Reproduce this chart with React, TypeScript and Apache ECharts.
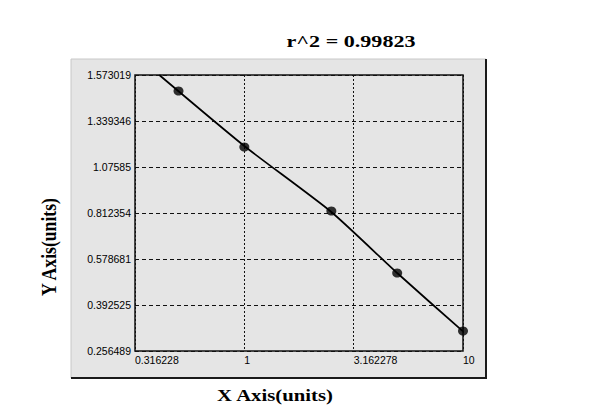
import React, { useEffect, useRef } from "react";
import * as echarts from "echarts";

const xTickLabels = ["0.316228", "1", "3.162278", "10"];
const yTickLabels = ["0.256489", "0.392525", "0.578681", "0.812354", "1.07585", "1.339346", "1.573019"];

const pointX = [0.5, 1, 2.5, 5, 10];
const pointY = [1.4917, 1.1905, 0.8237, 0.5221, 0.3156];

const fitX = [0.4084, 1, 2.5, 5, 10];
const fitY = [1.573019, 1.1961, 0.8181, 0.522, 0.3142];

const titleText = "r^2 = 0.99823";
const xTitle = "X Axis(units)";
const yTitle = "Y Axis(units)";

const yTickValues = yTickLabels.map(Number);

// map a value onto the (piecewise) y axis scale used by the original plot
function toYPos(v: number): number {
  const t = yTickValues;
  let i = 0;
  while (i < t.length - 2 && v > t[i + 1]) i++;
  return i + (v - t[i]) / (t[i + 1] - t[i]);
}
const toXPos = (v: number) => Math.log10(v);

export default function App() {
  const ref = useRef<HTMLDivElement>(null);
  useEffect(() => {
    document.body.style.margin = "0";
    if (!ref.current) return;
    const chart = echarts.init(ref.current, null, { renderer: "svg" });
    const panelFill = "#e5e5e5";
    chart.setOption({
      animation: false,
      backgroundColor: "#ffffff",
      grid: {
        left: 135,
        top: 75,
        right: 137,
        bottom: 64,
        show: true,
        backgroundColor: panelFill,
        borderColor: "#111",
        borderWidth: 1.5,
        containLabel: false,
      },
      xAxis: {
        type: "value",
        min: -0.5,
        max: 1,
        interval: 0.5,
        axisLine: { show: false },
        axisTick: { show: false },
        axisLabel: {
          color: "#000",
          fontFamily: "Liberation Sans, Arial, sans-serif",
          fontSize: 10.5,
          align: "left",
          margin: 3,
          formatter: (v: number) => xTickLabels[Math.round((v + 0.5) / 0.5)] ?? "",
        },
        splitLine: {
          show: true,
          lineStyle: { color: "#111", width: 1, type: [2, 2] },
        },
      },
      yAxis: {
        type: "value",
        min: 0,
        max: 6,
        interval: 1,
        axisLine: { show: false },
        axisTick: { show: false },
        axisLabel: {
          color: "#000",
          fontFamily: "Liberation Sans, Arial, sans-serif",
          fontSize: 10.5,
          margin: 4,
          formatter: (v: number) => yTickLabels[Math.round(v)] ?? "",
        },
        splitLine: {
          show: true,
          lineStyle: { color: "#111", width: 1, type: [4, 3] },
        },
      },
      graphic: [
        {
          type: "rect",
          z: -10,
          shape: { x: 71, y: 59, width: 415, height: 319 },
          style: { fill: panelFill, stroke: "#c8c8c8", lineWidth: 1 },
        },
        {
          type: "polyline",
          z: -9,
          shape: { points: [[486, 59], [486, 378], [71, 378]] },
          style: { stroke: "#1a1a1a", lineWidth: 2, fill: null },
        },
        {
          type: "text",
          x: 351,
          y: 41,
          scaleX: 1.3,
          style: {
            text: titleText,
            font: "bold 17px 'Liberation Serif', 'Times New Roman', serif",
            fill: "#000",
            align: "center",
            verticalAlign: "middle",
          },
        },
        {
          type: "text",
          x: 275,
          y: 395,
          scaleX: 1.22,
          style: {
            text: xTitle,
            font: "bold 17px 'Liberation Serif', 'Times New Roman', serif",
            fill: "#000",
            align: "center",
            verticalAlign: "middle",
          },
        },
        {
          type: "text",
          x: 49,
          y: 247,
          rotation: Math.PI / 2,
          scaleX: 1.04,
          scaleY: 1.2,
          style: {
            text: yTitle,
            font: "bold 17px 'Liberation Serif', 'Times New Roman', serif",
            fill: "#000",
            align: "center",
            verticalAlign: "middle",
          },
        },
      ],
      series: [
        {
          type: "line",
          data: fitX.map((x, i) => [toXPos(x), toYPos(fitY[i])]),
          symbol: "none",
          smooth: 0.2,
          lineStyle: { color: "#000", width: 1.7 },
          clip: true,
          z: 3,
        },
        {
          type: "scatter",
          data: pointX.map((x, i) => [toXPos(x), toYPos(pointY[i])]),
          symbol: "circle",
          symbolSize: [10, 9],
          itemStyle: { color: "#000" },
          clip: false,
          z: 4,
        },
      ],
    });
    return () => chart.dispose();
  }, []);
  return <div ref={ref} style={{ width: 600, height: 415 }} />;
}
